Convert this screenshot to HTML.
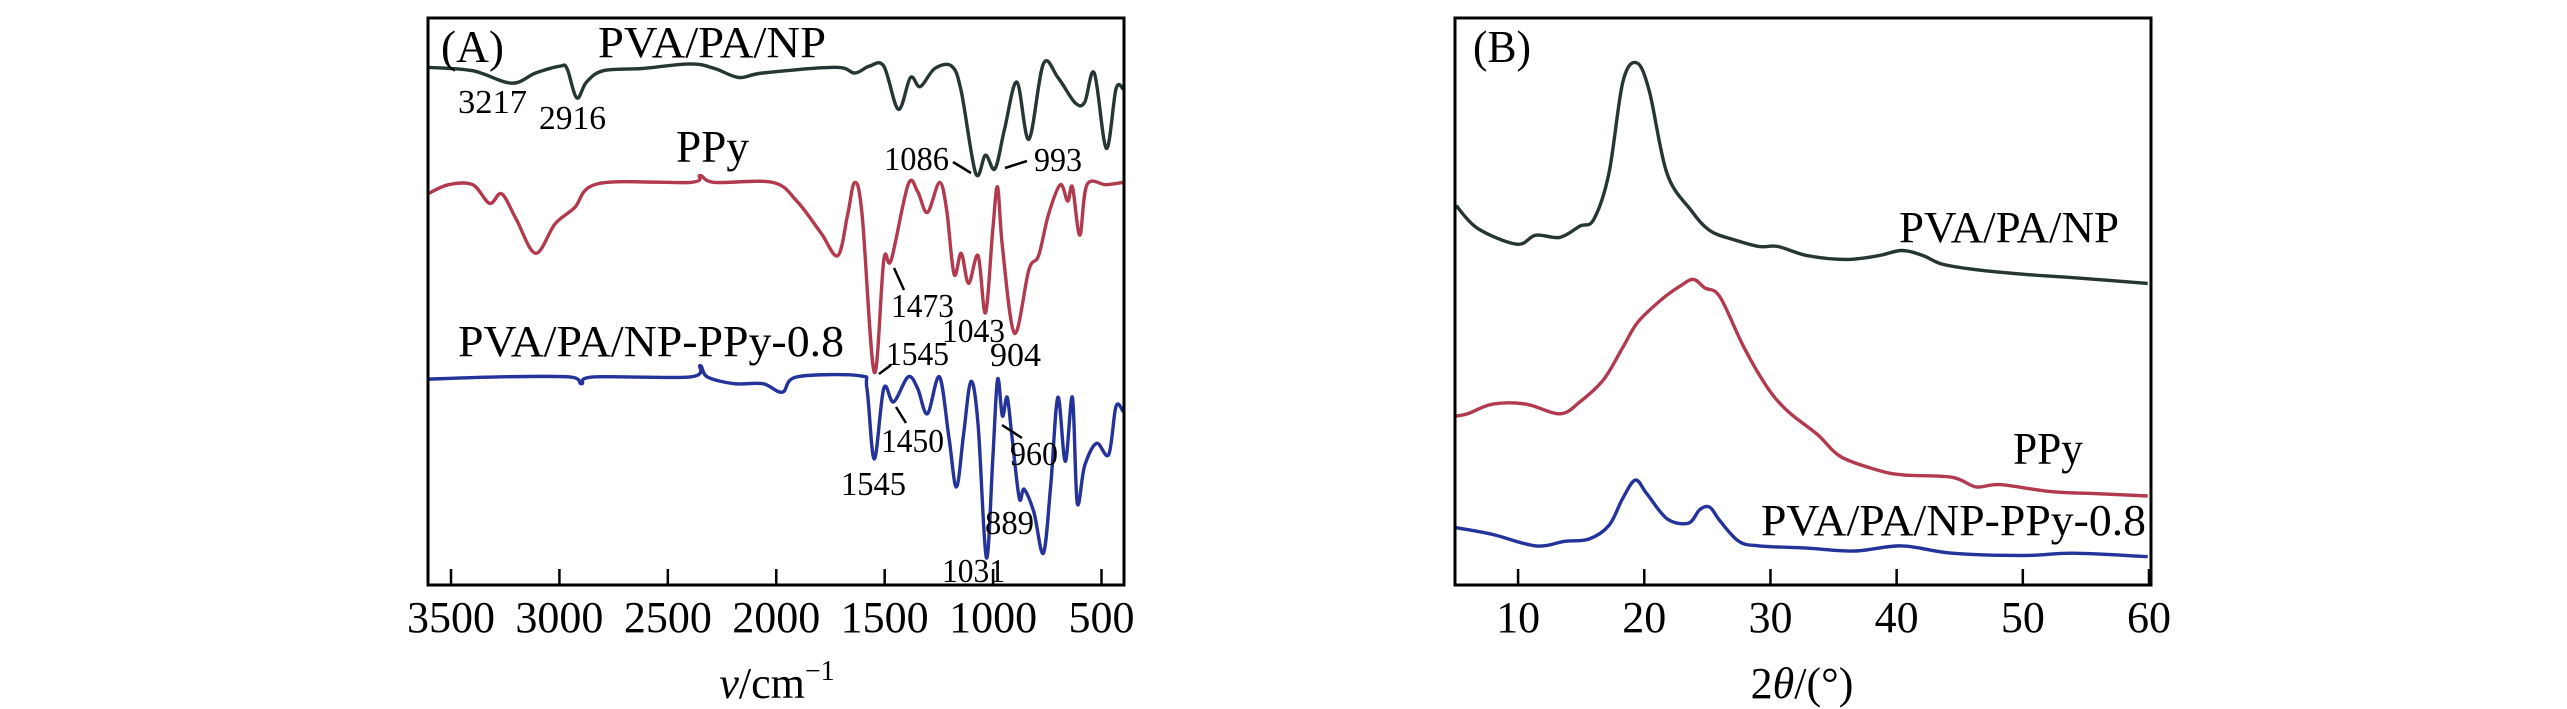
<!DOCTYPE html>
<html><head><meta charset="utf-8"><style>
html,body{margin:0;padding:0;background:#fff;}
svg{display:block;font-family:"Liberation Serif","Times New Roman",serif;}
</style></head><body>
<svg id="fig" width="2567" height="709" viewBox="0 0 2567 709">
<rect x="0" y="0" width="2567" height="709" fill="#fff"/>
<g id="pa"></g>
<g id="pb"></g>
</svg>
<script>
// ===== Panel A data (FTIR): wavenumber (cm-1) and offset transmittance (a.u., 0-100) =====
const ftirNpX=[3607,3400,3221,3110,2998,2965,2920,2875,2797,2619,2396,2284,2173,2061,1727,1638,1571,1504,1437,1381,1336,1269,1191,1147,1080,1035,991,946,890,835,768,701,623,578,533,478,433,400];
const ftirNpY=[91.3,90.7,88.5,90.3,91.5,91.1,85.9,88.7,90.7,91.1,91.9,91.1,89.5,90.3,91.3,90.3,91.5,91.5,83.9,89.5,87.9,91.1,91.5,87.1,72.6,75.8,73.4,80.6,88.7,78.6,91.9,89.5,85.1,85.1,90.3,77.0,87.5,87.5];
const ftirPpyX=[3607,3511,3400,3322,3266,3199,3110,3020,2931,2820,2396,2351,2284,2017,1905,1794,1716,1671,1638,1604,1548,1504,1470,1392,1348,1303,1247,1214,1180,1147,1113,1069,1035,1001,979,957,901,835,790,745,690,656,634,600,567,478,400];
const ftirPpyY=[69.0,70.6,70.6,67.3,69.0,64.5,58.5,63.7,66.5,70.8,71.0,72.2,71.0,71.0,67.7,62.1,58.1,65.3,71.0,65.3,37.5,57.3,57.3,70.6,69.4,65.7,71.0,66.1,54.8,58.5,53.2,58.1,48.0,62.9,70.2,59.7,44.4,55.6,58.1,65.3,70.6,67.7,70.2,61.7,70.6,70.6,71.0];
const ftirCompX=[3607,3288,2954,2898,2842,2396,2351,2318,2195,2061,1972,1905,1615,1582,1548,1504,1459,1392,1348,1303,1247,1203,1169,1136,1102,1069,1031,1001,979,957,935,912,879,857,812,768,734,701,667,634,612,578,523,467,433,400];
const ftirCompY=[36.3,36.7,36.7,35.5,36.7,36.7,38.7,36.7,35.5,35.5,34.0,36.7,36.9,34.7,22.2,34.7,32.3,36.7,34.7,30.2,36.7,25.8,17.3,26.6,35.9,28.2,4.8,22.6,36.3,29.8,33.1,25.8,15.3,16.9,12.9,5.6,17.7,33.1,21.8,33.1,14.5,21.0,25.0,23.0,31.5,30.6];
const ftirTicks=[3500,3000,2500,2000,1500,1000,500];
// ===== Panel B data (XRD): 2theta (deg) and offset intensity (a.u., 0-100) =====
const xrdNpX=[5.1,6.8,9.9,11.4,13.3,14.9,16.0,17.2,18.3,19.4,20.4,21.8,23.7,25.2,27.1,29.1,30.6,32.9,36.0,38.6,40.4,42.1,43.6,46.3,50.1,54.0,59.9];
const xrdNpY=[66.9,62.9,60.1,61.7,61.3,63.3,64.5,72.6,88.7,92.1,87.1,72.6,66.1,62.5,60.9,59.7,59.7,58.1,57.4,58.1,59.0,58.1,56.6,55.6,54.8,54.2,53.2];
const xrdPpyX=[5.1,6.0,8.0,10.6,13.3,14.9,16.8,18.3,19.5,21.4,22.9,23.9,24.8,26.0,27.9,29.8,31.4,33.7,35.6,38.6,40.6,44.4,46.3,48.2,52.1,55.9,59.9];
const xrdPpyY=[29.8,30.2,31.9,31.9,30.2,32.3,36.3,41.9,46.4,50.4,52.8,53.9,52.4,50.8,41.9,34.7,30.6,26.6,22.6,20.2,19.4,19.0,17.3,17.7,16.5,16.1,15.7];
const xrdCompX=[5.1,8.0,11.4,13.7,15.6,17.2,18.3,19.3,20.2,21.8,23.5,24.4,25.2,26.0,27.5,29.1,32.9,36.7,40.4,44.4,50.1,54.0,59.9];
const xrdCompY=[10.1,8.9,6.9,7.7,8.1,10.5,15.3,18.5,16.1,11.7,10.9,13.3,13.7,11.3,7.7,6.9,6.5,6.0,6.9,5.6,5.2,5.6,5.0];
const xrdTicks=[10,20,30,40,50,60];

const NS="http://www.w3.org/2000/svg";
const TOP=18,BOT=585;
function yScale(v){return BOT-(v/100)*(BOT-TOP);}
const xA=v=>451+(3500-v)*(650.5/3000);
const xB=t=>1455+(t-5)*(694/55);
function mk(tag,attrs,parent){const e=document.createElementNS(NS,tag);for(const k in attrs)e.setAttribute(k,attrs[k]);parent.appendChild(e);return e;}
function pathD(xs,ys,fx){
  const p=xs.map((x,i)=>[fx(x),yScale(ys[i])]);
  let d="M"+p[0][0].toFixed(1)+","+p[0][1].toFixed(1);
  for(let i=0;i<p.length-1;i++){
    const p0=p[Math.max(0,i-1)],p1=p[i],p2=p[i+1],p3=p[Math.min(p.length-1,i+2)];
    const c1=[p1[0]+(p2[0]-p0[0])/6,p1[1]+(p2[1]-p0[1])/6];
    const c2=[p2[0]-(p3[0]-p1[0])/6,p2[1]-(p3[1]-p1[1])/6];
    d+="C"+c1[0].toFixed(1)+","+c1[1].toFixed(1)+" "+c2[0].toFixed(1)+","+c2[1].toFixed(1)+" "+p2[0].toFixed(1)+","+p2[1].toFixed(1);
  }
  return d;
}
function txt(parent,s,x,y,size,w,anchor,name){
  const t=mk("text",{x:x,y:y,"font-size":size,fill:"#000"},parent);
  if(anchor)t.setAttribute("text-anchor",anchor);
  if(w){t.setAttribute("textLength",w);t.setAttribute("lengthAdjust","spacingAndGlyphs");}
  t.textContent=s;
  
  
  return t;
}
function line(parent,x1,y1,x2,y2,name){
  const l=mk("line",{x1:x1,y1:y1,x2:x2,y2:y2,stroke:"#000","stroke-width":2.5},parent);
  
  
}
function series(parent,xs,ys,fx,color,name,clip){
  const p=mk("path",{d:pathD(xs,ys,fx),fill:"none",stroke:color,"stroke-width":3.4,"stroke-linejoin":"round","clip-path":clip},parent);
  
  
}
const defs=mk("defs",{},document.getElementById("fig"));
const ca=mk("clipPath",{id:"ca"},defs);mk("rect",{x:428,y:TOP,width:696,height:BOT-TOP},ca);
const cb=mk("clipPath",{id:"cb"},defs);mk("rect",{x:1455,y:TOP,width:696,height:BOT-TOP},cb);

// Panel A
const pa=document.getElementById("pa");
series(pa,ftirNpX,ftirNpY,xA,"#263634","ftir-pva-pa-np-line","url(#ca)");
series(pa,ftirPpyX,ftirPpyY,xA,"#b23a4e","ftir-ppy-line","url(#ca)");
series(pa,ftirCompX,ftirCompY,xA,"#24339a","ftir-composite-line","url(#ca)");
const fa=mk("rect",{x:428,y:TOP,width:696,height:BOT-TOP,fill:"none",stroke:"#000","stroke-width":3},pa);

ftirTicks.forEach(v=>{line(pa,xA(v),BOT,xA(v),BOT-16,'x-tick-a');txt(pa,String(v),xA(v),632,44,null,"middle",'x-tick-label-a');});
txt(pa,"(A)",441,62,46,63,null,'panel-a-label');
txt(pa,"PVA/PA/NP",598,57,44,228,null,'label-pva-pa-np-a');
txt(pa,"PPy",676,162,46,73,null,'label-ppy-a');
txt(pa,"PVA/PA/NP-PPy-0.8",458,356,44,386,null,'label-composite-a');
[["3217",458,113,69],["2916",539,129,67],["1086",884,170,65],["993",1034,171,48],["1473",891,317,63],["1043",942,342,63],["904",990,366,51],["1545",886,365,63],["1450",881,452,63],["960",1010,465,48],["1545",841,495,65],["889",985,534,49],["1031",942,582,63]].forEach(a=>txt(pa,a[0],a[1],a[2],34,a[3],null,'peak-annotation-'+a[0]));
line(pa,953,162,971,173,'leader-1086');line(pa,1005,168,1027,161,'leader-993');
line(pa,894,268,904,290,'leader-1473');line(pa,879,374,891,365,'leader-1545');
line(pa,896,407,906,423,'leader-1450');line(pa,1002,425,1022,438,'leader-960');
const ta=mk("text",{x:777,y:698,"font-size":44,"text-anchor":"middle",fill:"#000"},pa);
ta.innerHTML='<tspan font-style="italic">ν</tspan>/cm<tspan dy="-18" font-size="28">−1</tspan>';


// Panel B
const pb=document.getElementById("pb");
series(pb,xrdNpX,xrdNpY,xB,"#263634","xrd-pva-pa-np-line","url(#cb)");
series(pb,xrdPpyX,xrdPpyY,xB,"#b23a4e","xrd-ppy-line","url(#cb)");
series(pb,xrdCompX,xrdCompY,xB,"#24339a","xrd-composite-line","url(#cb)");
const fb=mk("rect",{x:1455,y:TOP,width:696,height:BOT-TOP,fill:"none",stroke:"#000","stroke-width":3},pb);

xrdTicks.forEach(t=>{line(pb,xB(t),BOT,xB(t),BOT-16,'x-tick-b');txt(pb,String(t),xB(t),632,44,null,"middle",'x-tick-label-b');});
txt(pb,"(B)",1473,62,46,58,null,'panel-b-label');
txt(pb,"PVA/PA/NP",1899,242,44,220,null,'label-pva-pa-np-b');
txt(pb,"PPy",2013,464,46,70,null,'label-ppy-b');
txt(pb,"PVA/PA/NP-PPy-0.8",1761,535,44,385,null,'label-composite-b');
const tb=mk("text",{x:1802,y:698,"font-size":44,"text-anchor":"middle",fill:"#000"},pb);
tb.innerHTML='2<tspan font-style="italic">θ</tspan>/(°)';

</script>
</body></html>
